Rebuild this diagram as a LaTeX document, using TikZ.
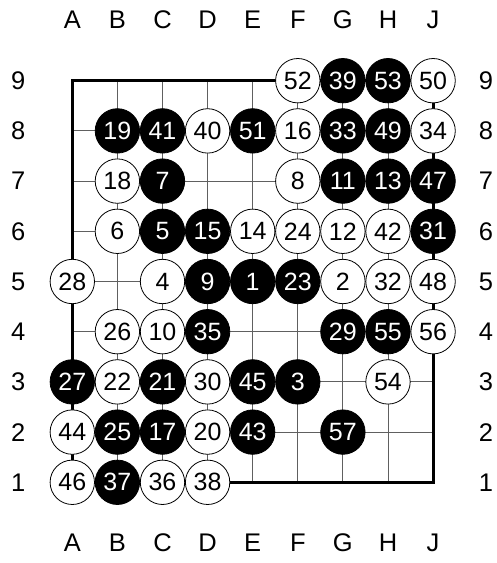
\documentclass[tikz,border=0pt]{standalone}
\usepackage{fontspec}
\setmainfont{Liberation Sans}
\usepackage{tikz}
\usetikzlibrary{positioning}

\begin{document}
\begin{tikzpicture}[
    x=45.1pt, y=50.2pt,
    gridline/.style={gray!75!black, line width=0.9pt},
    boardedge/.style={black, line width=2.8pt},
    stone/.style={circle, draw=black, line width=0.8pt, minimum size=44.4pt,
                  inner sep=0pt, font=\fontsize{25}{25}\selectfont},
    bstone/.style={stone, fill=black, text=white},
    wstone/.style={stone, fill=white, text=black},
    coordlabel/.style={font=\fontsize{25.5}{25.5}\selectfont, text=black},
]
\useasboundingbox (-72.3pt,-80.7pt) rectangle (424.7pt,482.3pt);

% --- Grid ---
\foreach \r in {1,...,9}
  \draw[gridline] (0,\r-1) -- (8,\r-1);
\foreach \c in {0,...,8}
  \draw[gridline] (\c,0) -- (\c,8);
\draw[boardedge] (0,0) rectangle (8,8);

% --- Coordinates ---
\foreach \l [count=\c from 0] in {A,B,C,D,E,F,G,H,J} {
  \node[coordlabel] (top-\l) at (\c,9.21) {\l};
  \node[coordlabel] (bot-\l) at (\c,-1.21) {\l};
}
\foreach \r in {1,...,9} {
  \node[coordlabel] (left-\r) at (-1.2,\r-1) {\r};
  \node[coordlabel] (right-\r) at (9.17,\r-1) {\r};
}

% --- Stones: column/row/colour/move ---
\foreach \c/\r/\s/\n in {
    5/9/w/52, 6/9/b/39, 7/9/b/53, 8/9/w/50,
    1/8/b/19, 2/8/b/41, 3/8/w/40, 4/8/b/51, 5/8/w/16, 6/8/b/33, 7/8/b/49, 8/8/w/34,
    1/7/w/18, 2/7/b/7, 5/7/w/8, 6/7/b/11, 7/7/b/13, 8/7/b/47,
    1/6/w/6, 2/6/b/5, 3/6/b/15, 4/6/w/14, 5/6/w/24, 6/6/w/12, 7/6/w/42, 8/6/b/31,
    0/5/w/28, 2/5/w/4, 3/5/b/9, 4/5/b/1, 5/5/b/23, 6/5/w/2, 7/5/w/32, 8/5/w/48,
    1/4/w/26, 2/4/w/10, 3/4/b/35, 6/4/b/29, 7/4/b/55, 8/4/w/56,
    0/3/b/27, 1/3/w/22, 2/3/b/21, 3/3/w/30, 4/3/b/45, 5/3/b/3, 7/3/w/54,
    0/2/w/44, 1/2/b/25, 2/2/b/17, 3/2/w/20, 4/2/b/43, 6/2/b/57,
    0/1/w/46, 1/1/b/37, 2/1/w/36, 3/1/w/38}
  \node[\s stone] (move-\n) at (\c,\r-1) {\n};

\end{tikzpicture}
\end{document}
